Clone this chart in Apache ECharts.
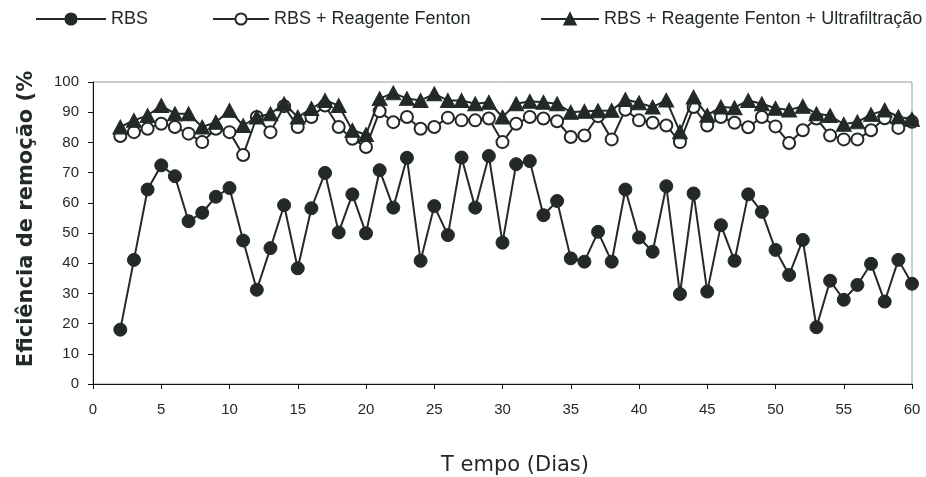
<!DOCTYPE html>
<html>
<head>
<meta charset="utf-8">
<script src="https://cdn.jsdelivr.net/npm/echarts@6/dist/echarts.min.js"></script>
<style>
html,body{margin:0;padding:0;background:#fff;}
#chart{width:926px;height:477px;}
</style>
</head>
<body>
<div id="chart"></div>
<script>
var days = [2,3,4,5,6,7,8,9,10,11,12,13,14,15,16,17,18,19,20,21,22,23,24,25,26,27,28,29,30,31,32,33,34,35,36,37,38,39,40,41,42,43,44,45,46,47,48,49,50,51,52,53,54,55,56,57,58,59,60];
var rbs = [18.0,41.1,64.4,72.4,68.8,53.9,56.7,62.0,64.9,47.5,31.2,45.0,59.2,38.3,58.2,69.9,50.2,62.8,49.9,70.8,58.4,74.9,40.8,58.9,49.3,75.0,58.4,75.5,46.8,72.8,73.8,55.9,60.6,41.6,40.5,50.4,40.5,64.4,48.5,43.8,65.5,29.8,63.1,30.6,52.6,40.8,62.8,57.0,44.4,36.1,47.7,18.8,34.2,27.9,32.8,39.8,27.3,41.1,33.2];
var fenton = [82.1,83.4,84.5,86.2,85.1,82.9,80.1,84.5,83.4,75.8,88.4,83.4,92.0,85.1,88.4,92.2,85.1,81.2,78.5,90.3,86.7,88.4,84.5,85.1,88.2,87.3,87.3,87.9,80.1,86.2,88.4,87.9,87.0,81.8,82.3,88.7,81.0,90.8,87.3,86.5,85.6,80.1,91.7,85.6,88.4,86.5,85.0,88.4,85.3,79.8,84.0,87.9,82.3,81.0,81.0,84.0,88.0,84.8,86.8];
var ultra = [85.1,87.3,88.9,92.2,89.5,89.5,85.1,86.7,90.6,85.6,88.4,89.5,92.8,88.4,91.2,93.9,92.2,84.0,82.6,94.5,96.4,94.5,93.9,96.1,93.9,93.9,92.8,93.3,88.4,92.8,93.6,93.3,92.8,90.0,90.3,90.5,90.6,94.2,93.1,91.7,94.0,83.5,95.0,89.0,91.7,91.5,93.9,92.8,91.3,90.7,92.0,89.5,88.9,86.0,86.8,89.2,90.7,88.5,87.7];
var seriesNames = ['RBS','RBS + Reagente Fenton','RBS + Reagente Fenton + Ultrafiltração'];
var xTitle = 'T empo (Dias)';
var yTitle = 'Eficiência de remoção (%';

function pairs(vals){ return vals.map(function(v,i){ return [days[i], v]; }); }

var ink = '#232a26';
var chart = echarts.init(document.getElementById('chart'));
var legendText = {fontFamily:'Liberation Sans', fontSize:18, color:ink};
chart.setOption({
  animation:false,
  backgroundColor:'#fff',
  grid:{left:93, right:14, top:82, bottom:93, show:true, borderColor:'#9a9a9a', borderWidth:1},
  legend:[
    {data:[seriesNames[0]], left:30, top:5, itemWidth:70, itemHeight:14, textStyle:legendText},
    {data:[seriesNames[1]], left:207, top:5, itemWidth:56, itemHeight:14, textStyle:legendText},
    {data:[seriesNames[2]], left:535, top:5, itemWidth:58, itemHeight:14, textStyle:legendText}
  ],
  xAxis:{type:'value', min:0, max:60, interval:5,
    axisLine:{lineStyle:{color:'#111', width:1}},
    axisTick:{show:true, length:5, lineStyle:{color:'#111'}},
    axisLabel:{fontFamily:'Liberation Sans', fontSize:15, color:ink, margin:18},
    splitLine:{show:false}},
  yAxis:{type:'value', min:0, max:100, interval:10,
    axisLine:{show:true, lineStyle:{color:'#111', width:1}},
    axisTick:{show:true, length:5, lineStyle:{color:'#111'}},
    axisLabel:{fontFamily:'Liberation Sans', fontSize:15, color:ink, margin:14},
    splitLine:{show:false}},
  graphic:[
    {type:'text', x:515, y:466, style:{text:xTitle, x:0, y:0, fontFamily:'DejaVu Sans', fontSize:21, fill:ink, textAlign:'center', textVerticalAlign:'middle'}},
    {type:'text', x:27, y:219, rotation:Math.PI/2, style:{text:yTitle, x:0, y:0, fontFamily:'DejaVu Sans', fontWeight:'bold', fontSize:21, fill:ink, textAlign:'center', textVerticalAlign:'middle'}}
  ],
  series:[
    {name:seriesNames[0], type:'line', data:pairs(rbs), symbol:'circle', symbolSize:13,
      lineStyle:{color:ink, width:2}, itemStyle:{color:ink, borderColor:ink, borderWidth:1}, z:2},
    {name:seriesNames[1], type:'line', data:pairs(fenton), symbol:'circle', symbolSize:12,
      lineStyle:{color:ink, width:2}, itemStyle:{color:'#fff', borderColor:ink, borderWidth:2}, z:3},
    {name:seriesNames[2], type:'line', data:pairs(ultra), symbol:'triangle', symbolSize:[15,14],
      lineStyle:{color:ink, width:2}, itemStyle:{color:ink, borderColor:ink, borderWidth:1}, z:4}
  ]
});
</script>
</body>
</html>
